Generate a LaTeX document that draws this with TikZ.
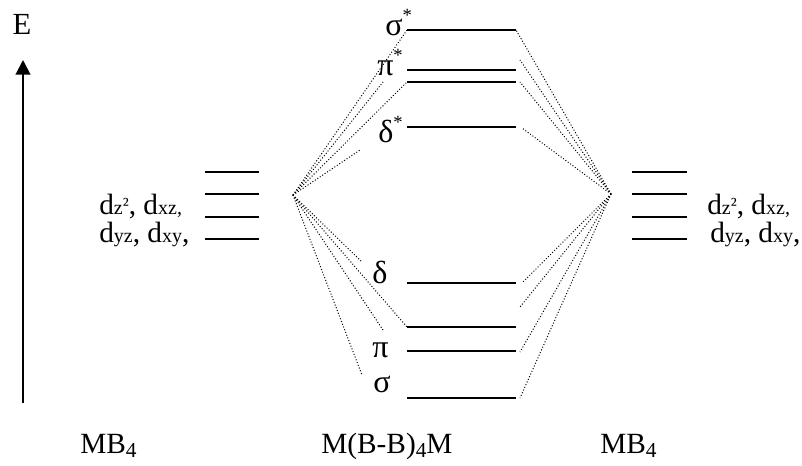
\documentclass[tikz,border=0pt]{standalone}
\usepackage{fontspec}
\setmainfont{Liberation Serif}
\usetikzlibrary{arrows.meta}
% raised asterisk for antibonding labels, lowered subscript digit
\newcommand\sstar{\raisebox{0.42em}{\fontsize{14}{14}\selectfont *}}
\newcommand\subfour{\raisebox{-0.15em}{\fontsize{16}{16}\selectfont 4}}
% small orbital indices set on the baseline
\newcommand\idx[1]{{\fontsize{15}{15}\selectfont #1}}

\begin{document}
\begin{tikzpicture}[x=0.75pt,y=-0.75pt,
  level/.style={line width=1.4pt},
  corr/.style={line width=0.75pt, dash pattern=on 0.75pt off 1.45pt},
  lbl/.style={inner sep=0pt, anchor=base west},
  greek/.style={lbl, font=\fontsize{24}{24}\selectfont},
  orb/.style={lbl, font=\fontsize{22}{22}\selectfont},
  captext/.style={lbl, font=\fontsize{22}{22}\selectfont}]
\useasboundingbox (0,0) rectangle (802,465);

% energy axis
\coordinate (axB) at (23,403);
\coordinate (axT) at (23,60);
\draw[line width=1.5pt, -{Triangle[width=11pt,length=11pt]}] (axB) -- (axT);
\node[font=\fontsize{23}{23}\selectfont, inner sep=0pt] (E) at (22,24) {E};

% molecular orbital levels of the dimer
\foreach \n/\y in {ss/30, pa/70, pb/82, dd/127, d/283, n/327, p/351, s/398} {
  \coordinate (\n L) at (407,\y);
  \coordinate (\n R) at (516,\y);
  \draw[level] (\n L) -- (\n R);
}

% d levels of the two MB4 fragments
\foreach \i/\y in {1/172, 2/194, 3/217, 4/239} {
  \coordinate (l\i L) at (205,\y);
  \coordinate (l\i R) at (259,\y);
  \draw[level] (l\i L) -- (l\i R);
  \coordinate (r\i L) at (632,\y);
  \coordinate (r\i R) at (687,\y);
  \draw[level] (r\i L) -- (r\i R);
}

% fan points of the correlation lines
\coordinate (vL) at (293,195);
\coordinate (vR) at (611,194);

% free ends of the correlation lines
\coordinate (fL1) at (383,82);
\coordinate (fL2) at (360,150);
\coordinate (fL3) at (362,262);
\coordinate (fL4) at (383,330);
\coordinate (fL5) at (362,375);
\coordinate (fR1) at (520,60);
\coordinate (fR2) at (520,82);
\coordinate (fR3) at (522,128);
\coordinate (fR4) at (522,283);
\coordinate (fR5) at (520,307);
\coordinate (fR6) at (520,352);
\coordinate (fR7) at (520,398);

% left correlation lines
\draw[corr] (vL) -- (ssL);
\draw[corr] (vL) -- (fL1);
\draw[corr] (vL) -- (pbL);
\draw[corr] (vL) -- (fL2);
\draw[corr] (vL) -- (fL3);
\draw[corr] (vL) -- (nL);
\draw[corr] (vL) -- (fL4);
\draw[corr] (vL) -- (fL5);

% right correlation lines
\draw[corr] (vR) -- (ssR);
\draw[corr] (vR) -- (fR1);
\draw[corr] (vR) -- (fR2);
\draw[corr] (vR) -- (fR3);
\draw[corr] (vR) -- (fR4);
\draw[corr] (vR) -- (fR5);
\draw[corr] (vR) -- (fR6);
\draw[corr] (vR) -- (fR7);

% orbital labels
\node[greek] (lss) at (385,35) {σ\sstar};
\node[greek] (lpp) at (377,75) {π\sstar};
\node[greek] (ldd) at (378,142) {δ\sstar};
\node[greek] (ld) at (372,283) {δ};
\node[greek] (lp) at (372,357) {π};
\node[greek] (ls) at (373,392) {σ};

% fragment orbital labels
\node[orb] (oL1) at (99,214) {d\idx{z\raisebox{0.15em}{²}}, d\idx{xz,}};
\node[orb] (oL2) at (99,242) {d\idx{yz}, d\idx{xy},};
\node[orb] (oR1) at (707,214) {d\idx{z\raisebox{0.15em}{²}}, d\idx{xz,}};
\node[orb] (oR2) at (710,242) {d\idx{yz}, d\idx{xy},};

% fragment and dimer names
\node[captext] (mbL) at (80,453) {MB\subfour};
\node[captext] (dim) at (321,453) {M(B-B)\subfour M};
\node[captext] (mbR) at (600,453) {MB\subfour};
\end{tikzpicture}
\end{document}
